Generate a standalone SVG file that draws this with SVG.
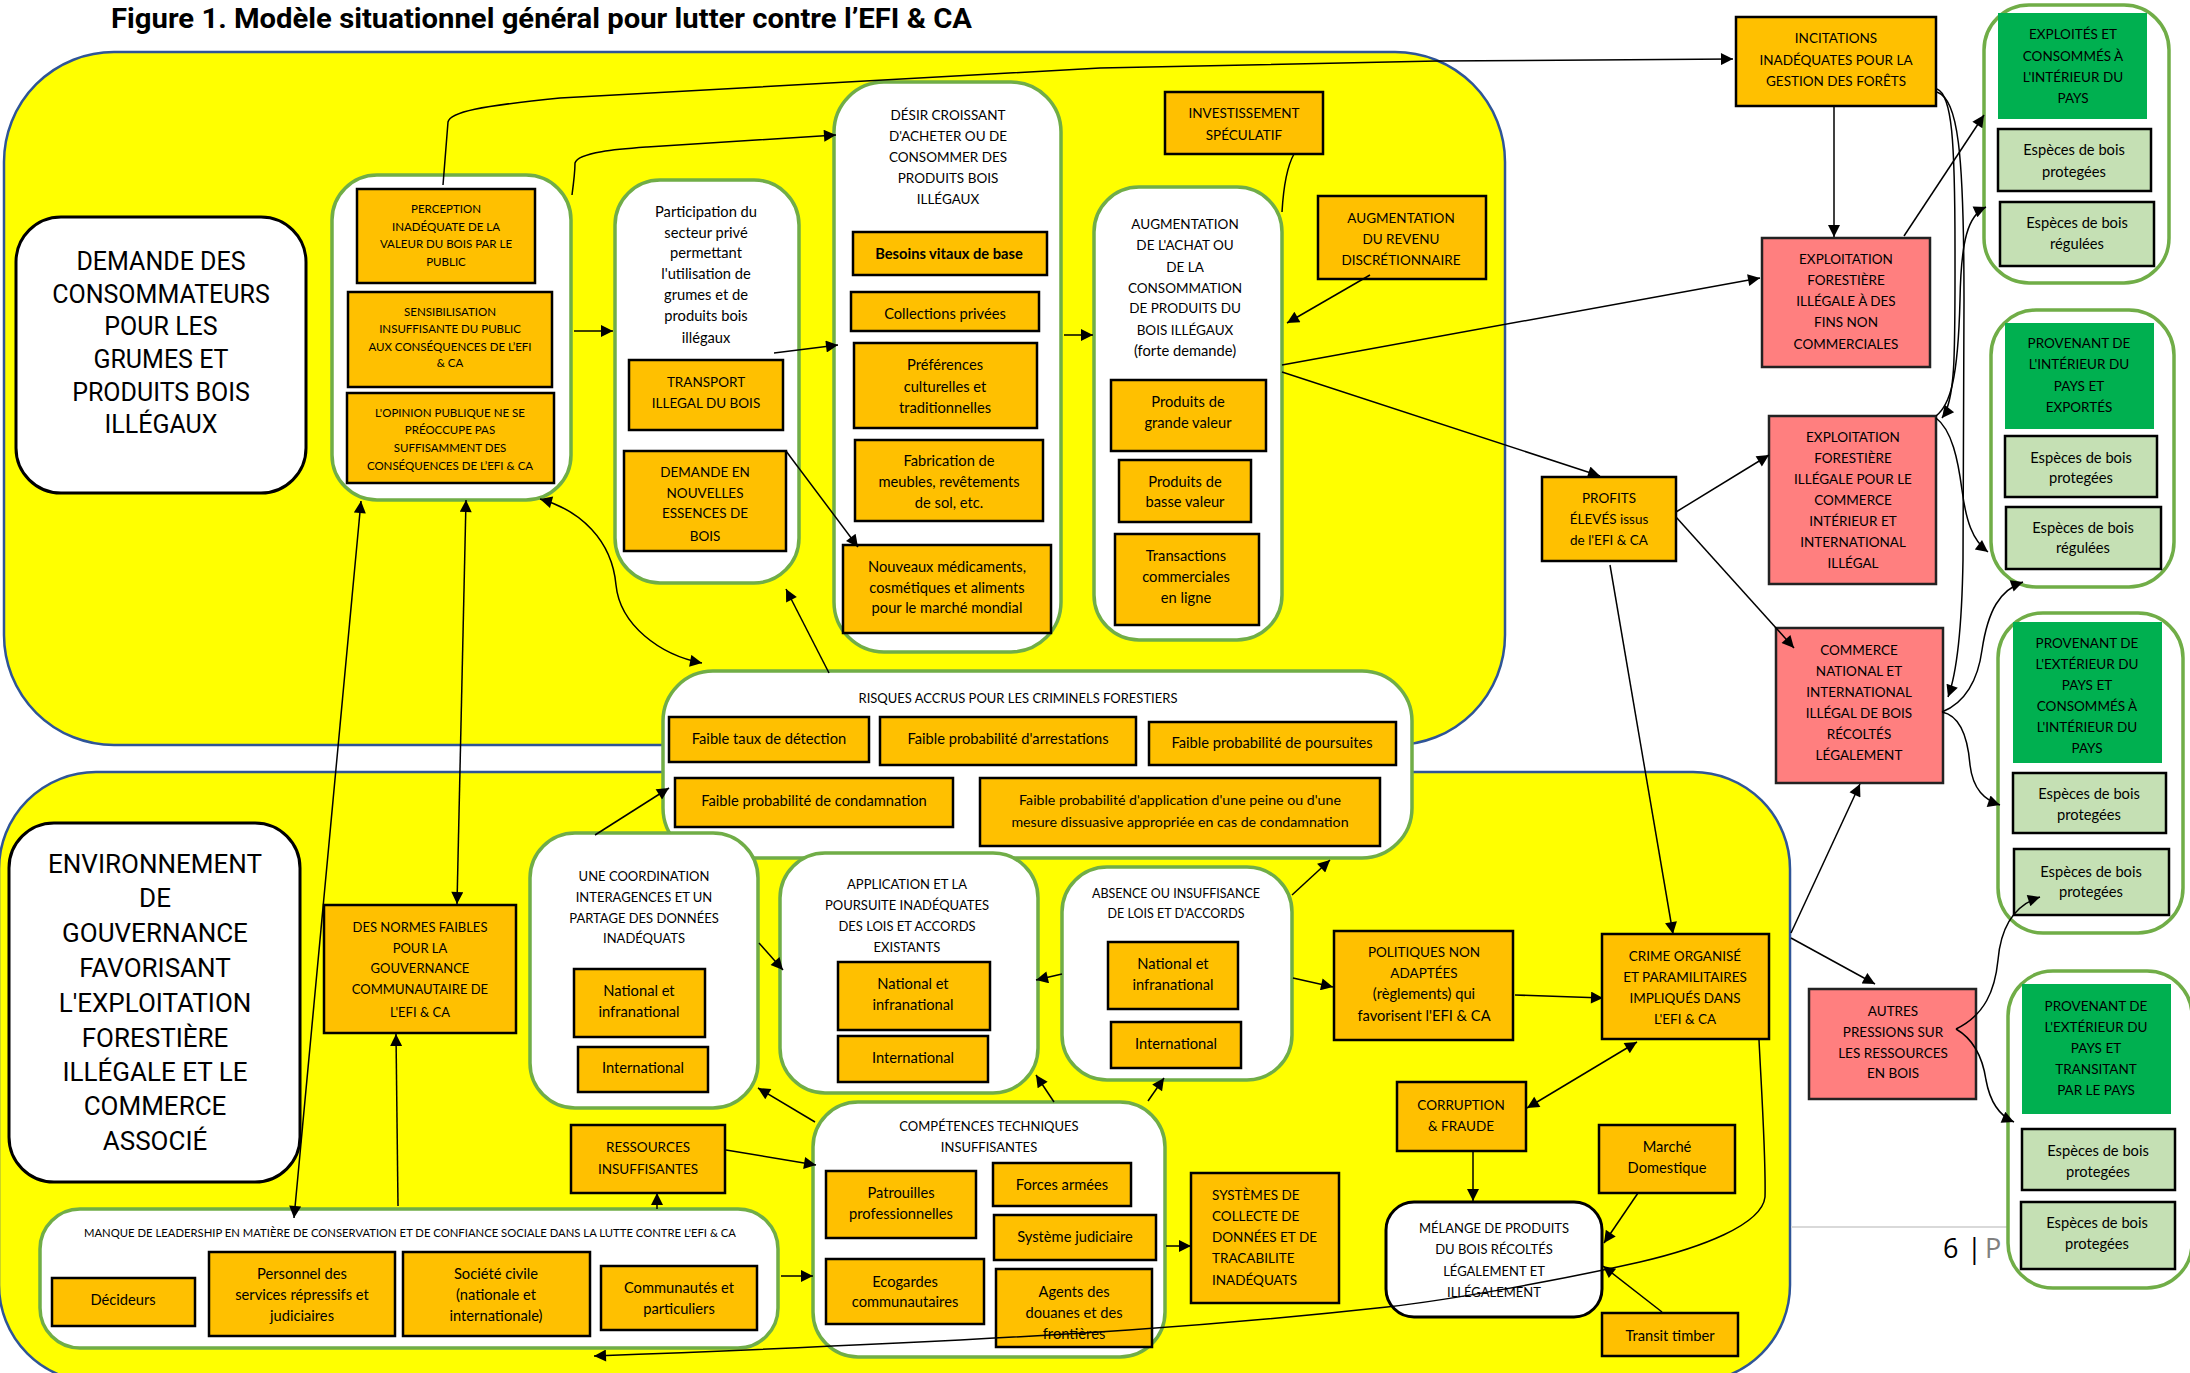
<svg xmlns="http://www.w3.org/2000/svg" width="2190" height="1373" viewBox="0 0 2190 1373">
<defs>
<style>
.reg{fill:#FFFF00;stroke:#2F5597;stroke-width:2.5}
.wb{fill:#fff;stroke:#000;stroke-width:3}
.gc{fill:#fff;stroke:#70AD47;stroke-width:3.5}
.ob{fill:#FFC000;stroke:#000;stroke-width:2.5}
.sb{fill:#FF7F7F;stroke:#222;stroke-width:2.5}
.gb{fill:#00B050}
.lg{fill:#C5E0B4;stroke:#000;stroke-width:2.5}
text{font-family:Lato,"Open Sans",sans-serif;font-size:13.5px;fill:#000;text-anchor:middle}
.l{font-size:14.7px}
.s{font-size:11.5px}
.m{font-size:13px}
.big{font-family:Roboto,"Liberation Sans",sans-serif;font-size:25px}
.big2{font-family:Roboto,"Liberation Sans",sans-serif;font-size:26px}
.c{fill:none;stroke:#000;stroke-width:1.5}
.a{marker-end:url(#ah)}
.d{marker-start:url(#ah);marker-end:url(#ah)}
</style>
<marker id="ah" viewBox="0 0 10 10" refX="10" refY="5" markerWidth="15" markerHeight="12" markerUnits="userSpaceOnUse" orient="auto-start-reverse"><path d="M0,0 L10,5 L0,10 z" fill="#000"/></marker>
</defs>
<rect width="2190" height="1373" fill="#fff"/>
<text x="111" y="28" style="font-family:Roboto,'Liberation Sans',sans-serif;font-weight:bold;font-size:28px;text-anchor:start" textLength="861" lengthAdjust="spacingAndGlyphs">Figure 1. Modèle situationnel général pour lutter contre l’EFI &amp; CA</text>

<g id="region-demande"><rect class="reg" x="4" y="52" width="1501" height="693" rx="110"/></g>
<g id="region-gouvernance"><rect class="reg" x="-1" y="772" width="1791" height="610" rx="97"/></g>

<g id="footer">
<line x1="1791" y1="1227" x2="2008" y2="1227" stroke="#d9d9d9" stroke-width="2"/>
<text x="1943" y="1258" style="font-family:'Open Sans',sans-serif;font-size:27px;text-anchor:start">6</text>
<text x="1967" y="1258" style="font-family:'Open Sans',sans-serif;font-size:27px;text-anchor:start">|</text>
<text x="1985" y="1258" style="font-family:'Open Sans',sans-serif;font-size:27px;text-anchor:start;fill:#808080">P</text>
</g>

<g id="demande-consommateurs">
<rect class="wb" x="16" y="217" width="290" height="276" rx="45"/>
<text class="big"><tspan x="161" y="270">DEMANDE DES</tspan><tspan x="161" y="303">CONSOMMATEURS</tspan><tspan x="161" y="335">POUR LES</tspan><tspan x="161" y="368">GRUMES ET</tspan><tspan x="161" y="401">PRODUITS BOIS</tspan><tspan x="161" y="433">ILLÉGAUX</tspan></text>
</g>

<g id="groupe-perception">
<rect class="gc" x="332" y="175" width="239" height="325" rx="45"/>
<rect class="ob" x="357" y="189" width="178" height="94"/>
<text class="s"><tspan x="446" y="213">PERCEPTION</tspan><tspan x="446" y="231">INADÉQUATE DE LA</tspan><tspan x="446" y="248">VALEUR DU BOIS PAR LE</tspan><tspan x="446" y="266">PUBLIC</tspan></text>
<rect class="ob" x="348" y="292" width="204" height="95"/>
<text class="s"><tspan x="450" y="316">SENSIBILISATION</tspan><tspan x="450" y="333">INSUFFISANTE DU PUBLIC</tspan><tspan x="450" y="351">AUX CONSÉQUENCES DE L’EFI</tspan><tspan x="450" y="367">&amp; CA</tspan></text>
<rect class="ob" x="347" y="393" width="207" height="90"/>
<text class="s"><tspan x="450" y="417">L'OPINION PUBLIQUE NE SE</tspan><tspan x="450" y="434">PRÉOCCUPE PAS</tspan><tspan x="450" y="452">SUFFISAMMENT DES</tspan><tspan x="450" y="470">CONSÉQUENCES DE L’EFI &amp; CA</tspan></text>
</g>

<g id="participation">
<rect class="gc" x="615" y="180" width="184" height="403" rx="45"/>
<text class="l"><tspan x="706" y="217">Participation du</tspan><tspan x="706" y="238">secteur privé</tspan><tspan x="706" y="258">permettant</tspan><tspan x="706" y="279">l'utilisation de</tspan><tspan x="706" y="300">grumes et de</tspan><tspan x="706" y="321">produits bois</tspan><tspan x="706" y="343">illégaux</tspan></text>
<rect class="ob" x="629" y="360" width="154" height="70"/>
<text><tspan x="706" y="387">TRANSPORT</tspan><tspan x="706" y="408">ILLEGAL DU BOIS</tspan></text>
<rect class="ob" x="624" y="451" width="162" height="100"/>
<text><tspan x="705" y="477">DEMANDE EN</tspan><tspan x="705" y="498">NOUVELLES</tspan><tspan x="705" y="518">ESSENCES DE</tspan><tspan x="705" y="541">BOIS</tspan></text>
</g>

<g id="desir">
<rect class="gc" x="834" y="82" width="227" height="570" rx="50"/>
<text><tspan x="948" y="120">DÉSIR CROISSANT</tspan><tspan x="948" y="141">D'ACHETER OU DE</tspan><tspan x="948" y="162">CONSOMMER DES</tspan><tspan x="948" y="183">PRODUITS BOIS</tspan><tspan x="948" y="204">ILLÉGAUX</tspan></text>
<rect class="ob" x="853" y="232" width="194" height="43"/>
<text class="l" x="949" y="259" font-weight="bold">Besoins vitaux de base</text>
<rect class="ob" x="851" y="292" width="188" height="39"/>
<text class="l" x="945" y="319">Collections privées</text>
<rect class="ob" x="854" y="343" width="183" height="85"/>
<text class="l"><tspan x="945" y="370">Préférences</tspan><tspan x="945" y="392">culturelles et</tspan><tspan x="945" y="413">traditionnelles</tspan></text>
<rect class="ob" x="855" y="440" width="188" height="81"/>
<text class="l"><tspan x="949" y="466">Fabrication de</tspan><tspan x="949" y="487">meubles, revêtements</tspan><tspan x="949" y="508">de sol, etc.</tspan></text>
<rect class="ob" x="843" y="545" width="208" height="88"/>
<text class="l"><tspan x="947" y="572">Nouveaux médicaments,</tspan><tspan x="947" y="593">cosmétiques et aliments</tspan><tspan x="947" y="613">pour le marché mondial</tspan></text>
</g>

<g id="investissement">
<rect class="ob" x="1165" y="92" width="158" height="62"/>
<text><tspan x="1244" y="118">INVESTISSEMENT</tspan><tspan x="1244" y="140">SPÉCULATIF</tspan></text>
</g>

<g id="augmentation">
<rect class="gc" x="1094" y="187" width="188" height="453" rx="45"/>
<text><tspan x="1185" y="229">AUGMENTATION</tspan><tspan x="1185" y="250">DE L'ACHAT OU</tspan><tspan x="1185" y="272">DE LA</tspan><tspan x="1185" y="293">CONSOMMATION</tspan><tspan x="1185" y="313">DE PRODUITS DU</tspan><tspan x="1185" y="335">BOIS ILLÉGAUX</tspan><tspan x="1185" y="356" class="l">(forte demande)</tspan></text>
<rect class="ob" x="1111" y="380" width="155" height="71"/>
<text class="l"><tspan x="1188" y="407">Produits de</tspan><tspan x="1188" y="428">grande valeur</tspan></text>
<rect class="ob" x="1119" y="460" width="132" height="62"/>
<text class="l"><tspan x="1185" y="487">Produits de</tspan><tspan x="1185" y="507">basse valeur</tspan></text>
<rect class="ob" x="1115" y="534" width="144" height="91"/>
<text class="l"><tspan x="1186" y="561">Transactions</tspan><tspan x="1186" y="582">commerciales</tspan><tspan x="1186" y="603">en ligne</tspan></text>
</g>

<g id="revenu">
<rect class="ob" x="1318" y="196" width="168" height="83"/>
<text><tspan x="1401" y="223">AUGMENTATION</tspan><tspan x="1401" y="244">DU REVENU</tspan><tspan x="1401" y="265">DISCRÉTIONNAIRE</tspan></text>
</g>

<g id="profits">
<rect class="ob" x="1542" y="477" width="134" height="84"/>
<text><tspan x="1609" y="503">PROFITS</tspan><tspan x="1609" y="524">ÉLEVÉS issus</tspan><tspan x="1609" y="545">de l'EFI &amp; CA</tspan></text>
</g>

<g id="incitations">
<rect class="ob" x="1736" y="17" width="200" height="89"/>
<text><tspan x="1836" y="43">INCITATIONS</tspan><tspan x="1836" y="65">INADÉQUATES POUR LA</tspan><tspan x="1836" y="86">GESTION DES FORÊTS</tspan></text>
</g>

<g id="exploitation-non-commerciale">
<rect class="sb" x="1762" y="238" width="168" height="129"/>
<text><tspan x="1846" y="264">EXPLOITATION</tspan><tspan x="1846" y="285">FORESTIÈRE</tspan><tspan x="1846" y="306">ILLÉGALE À DES</tspan><tspan x="1846" y="327">FINS NON</tspan><tspan x="1846" y="349">COMMERCIALES</tspan></text>
</g>

<g id="exploitation-commerce">
<rect class="sb" x="1769" y="416" width="167" height="168"/>
<text><tspan x="1853" y="442">EXPLOITATION</tspan><tspan x="1853" y="463">FORESTIÈRE</tspan><tspan x="1853" y="484">ILLÉGALE POUR LE</tspan><tspan x="1853" y="505">COMMERCE</tspan><tspan x="1853" y="526">INTÉRIEUR ET</tspan><tspan x="1853" y="547">INTERNATIONAL</tspan><tspan x="1853" y="568">ILLÉGAL</tspan></text>
</g>

<g id="commerce-legal">
<rect class="sb" x="1776" y="628" width="167" height="155"/>
<text><tspan x="1859" y="655">COMMERCE</tspan><tspan x="1859" y="676">NATIONAL ET</tspan><tspan x="1859" y="697">INTERNATIONAL</tspan><tspan x="1859" y="718">ILLÉGAL DE BOIS</tspan><tspan x="1859" y="739">RÉCOLTÉS</tspan><tspan x="1859" y="760">LÉGALEMENT</tspan></text>
</g>

<g id="autres-pressions">
<rect class="sb" x="1809" y="989" width="167" height="110"/>
<text><tspan x="1893" y="1016">AUTRES</tspan><tspan x="1893" y="1037">PRESSIONS SUR</tspan><tspan x="1893" y="1058">LES RESSOURCES</tspan><tspan x="1893" y="1078">EN BOIS</tspan></text>
</g>

<g id="groupe-interieur">
<rect class="gc" x="1984" y="5" width="185" height="278" rx="45"/>
<rect class="gb" x="1998" y="13" width="149" height="106"/>
<text><tspan x="2073" y="39">EXPLOITÉS ET</tspan><tspan x="2073" y="61">CONSOMMÉS À</tspan><tspan x="2073" y="82">L'INTÉRIEUR DU</tspan><tspan x="2073" y="103">PAYS</tspan></text>
<rect class="lg" x="1998" y="129" width="153" height="62"/>
<text class="l"><tspan x="2074" y="155">Espèces de bois</tspan><tspan x="2074" y="177">protegées</tspan></text>
<rect class="lg" x="2000" y="202" width="154" height="64"/>
<text class="l"><tspan x="2077" y="228">Espèces de bois</tspan><tspan x="2077" y="249">régulées</tspan></text>
</g>

<g id="groupe-exportes">
<rect class="gc" x="1991" y="310" width="183" height="277" rx="45"/>
<rect class="gb" x="2005" y="323" width="149" height="106"/>
<text><tspan x="2079" y="348">PROVENANT DE</tspan><tspan x="2079" y="369">L'INTÉRIEUR DU</tspan><tspan x="2079" y="391">PAYS ET</tspan><tspan x="2079" y="412">EXPORTÉS</tspan></text>
<rect class="lg" x="2005" y="436" width="152" height="61"/>
<text class="l"><tspan x="2081" y="463">Espèces de bois</tspan><tspan x="2081" y="483">protegées</tspan></text>
<rect class="lg" x="2006" y="507" width="155" height="62"/>
<text class="l"><tspan x="2083" y="533">Espèces de bois</tspan><tspan x="2083" y="553">régulées</tspan></text>
</g>

<g id="groupe-importes">
<rect class="gc" x="1998" y="613" width="185" height="320" rx="45"/>
<rect class="gb" x="2013" y="622" width="149" height="141"/>
<text><tspan x="2087" y="648">PROVENANT DE</tspan><tspan x="2087" y="669">L'EXTÉRIEUR DU</tspan><tspan x="2087" y="690">PAYS ET</tspan><tspan x="2087" y="711">CONSOMMÉS À</tspan><tspan x="2087" y="732">L'INTÉRIEUR DU</tspan><tspan x="2087" y="753">PAYS</tspan></text>
<rect class="lg" x="2013" y="773" width="153" height="60"/>
<text class="l"><tspan x="2089" y="799">Espèces de bois</tspan><tspan x="2089" y="820">protegées</tspan></text>
<rect class="lg" x="2014" y="849" width="155" height="66"/>
<text class="l"><tspan x="2091" y="877">Espèces de bois</tspan><tspan x="2091" y="897">protegées</tspan></text>
</g>

<g id="groupe-transit">
<rect class="gc" x="2008" y="971" width="184" height="317" rx="45"/>
<rect class="gb" x="2022" y="984" width="149" height="130"/>
<text><tspan x="2096" y="1011">PROVENANT DE</tspan><tspan x="2096" y="1032">L'EXTÉRIEUR DU</tspan><tspan x="2096" y="1053">PAYS ET</tspan><tspan x="2096" y="1074">TRANSITANT</tspan><tspan x="2096" y="1095">PAR LE PAYS</tspan></text>
<rect class="lg" x="2022" y="1129" width="153" height="61"/>
<text class="l"><tspan x="2098" y="1156">Espèces de bois</tspan><tspan x="2098" y="1177">protegées</tspan></text>
<rect class="lg" x="2021" y="1202" width="154" height="67"/>
<text class="l"><tspan x="2097" y="1228">Espèces de bois</tspan><tspan x="2097" y="1249">protegées</tspan></text>
</g>

<g id="risques">
<rect class="gc" x="663" y="671" width="749" height="187" rx="50"/>
<text class="m" x="1018" y="703">RISQUES ACCRUS POUR LES CRIMINELS FORESTIERS</text>
<rect class="ob" x="669" y="717" width="200" height="45"/>
<text class="l" x="769" y="744">Faible taux de détection</text>
<rect class="ob" x="880" y="717" width="256" height="48"/>
<text class="l" x="1008" y="744">Faible probabilité d'arrestations</text>
<rect class="ob" x="1149" y="722" width="247" height="43"/>
<text class="l" x="1272" y="748">Faible probabilité de poursuites</text>
<rect class="ob" x="675" y="778" width="278" height="49"/>
<text class="l" x="814" y="806">Faible probabilité de condamnation</text>
<rect class="ob" x="980" y="778" width="400" height="68"/>
<text style="font-size:14.2px"><tspan x="1180" y="805">Faible probabilité d'application d'une peine ou d'une</tspan><tspan x="1180" y="827">mesure dissuasive appropriée en cas de condamnation</tspan></text>
</g>

<g id="environnement">
<rect class="wb" x="9" y="823" width="291" height="359" rx="45"/>
<text class="big2"><tspan x="155" y="873">ENVIRONNEMENT</tspan><tspan x="155" y="907">DE</tspan><tspan x="155" y="942">GOUVERNANCE</tspan><tspan x="155" y="977">FAVORISANT</tspan><tspan x="155" y="1012">L'EXPLOITATION</tspan><tspan x="155" y="1047">FORESTIÈRE</tspan><tspan x="155" y="1081">ILLÉGALE ET LE</tspan><tspan x="155" y="1115">COMMERCE</tspan><tspan x="155" y="1150">ASSOCIÉ</tspan></text>
</g>

<g id="normes">
<rect class="ob" x="324" y="905" width="192" height="128"/>
<text class="m"><tspan x="420" y="932">DES NORMES FAIBLES</tspan><tspan x="420" y="953">POUR LA</tspan><tspan x="420" y="973">GOUVERNANCE</tspan><tspan x="420" y="994">COMMUNAUTAIRE DE</tspan><tspan x="420" y="1017">L'EFI &amp; CA</tspan></text>
</g>

<g id="coordination">
<rect class="gc" x="530" y="833" width="228" height="275" rx="45"/>
<text class="m"><tspan x="644" y="881">UNE COORDINATION</tspan><tspan x="644" y="902">INTERAGENCES ET UN</tspan><tspan x="644" y="923">PARTAGE DES DONNÉES</tspan><tspan x="644" y="943">INADÉQUATS</tspan></text>
<rect class="ob" x="574" y="969" width="131" height="68"/>
<text class="l"><tspan x="639" y="996">National et</tspan><tspan x="639" y="1017">infranational</tspan></text>
<rect class="ob" x="578" y="1047" width="130" height="45"/>
<text class="l" x="643" y="1073">International</text>
</g>

<g id="application">
<rect class="gc" x="780" y="853" width="258" height="240" rx="45"/>
<text class="m"><tspan x="907" y="889">APPLICATION ET LA</tspan><tspan x="907" y="910">POURSUITE INADÉQUATES</tspan><tspan x="907" y="931">DES LOIS ET ACCORDS</tspan><tspan x="907" y="952">EXISTANTS</tspan></text>
<rect class="ob" x="838" y="962" width="152" height="68"/>
<text class="l"><tspan x="913" y="989">National et</tspan><tspan x="913" y="1010">infranational</tspan></text>
<rect class="ob" x="838" y="1036" width="150" height="46"/>
<text class="l" x="913" y="1063">International</text>
</g>

<g id="absence">
<rect class="gc" x="1062" y="867" width="230" height="213" rx="45"/>
<text style="font-size:12.5px"><tspan x="1176" y="898">ABSENCE OU INSUFFISANCE</tspan><tspan x="1176" y="918">DE LOIS ET D'ACCORDS</tspan></text>
<rect class="ob" x="1108" y="942" width="130" height="67"/>
<text class="l"><tspan x="1173" y="969">National et</tspan><tspan x="1173" y="990">infranational</tspan></text>
<rect class="ob" x="1111" y="1022" width="130" height="46"/>
<text class="l" x="1176" y="1049">International</text>
</g>

<g id="politiques">
<rect class="ob" x="1334" y="931" width="179" height="109"/>
<text><tspan x="1424" y="957">POLITIQUES NON</tspan><tspan x="1424" y="978">ADAPTÉES</tspan><tspan x="1424" y="999" class="l">(règlements) qui</tspan><tspan x="1424" y="1021" class="l">favorisent l'EFI &amp; CA</tspan></text>
</g>

<g id="crime">
<rect class="ob" x="1602" y="934" width="167" height="105"/>
<text><tspan x="1685" y="961">CRIME ORGANISÉ</tspan><tspan x="1685" y="982">ET PARAMILITAIRES</tspan><tspan x="1685" y="1003">IMPLIQUÉS DANS</tspan><tspan x="1685" y="1024">L'EFI &amp; CA</tspan></text>
</g>

<g id="corruption">
<rect class="ob" x="1397" y="1082" width="129" height="69"/>
<text><tspan x="1461" y="1110">CORRUPTION</tspan><tspan x="1461" y="1131">&amp; FRAUDE</tspan></text>
</g>

<g id="melange">
<rect class="wb" x="1386" y="1202" width="216" height="115" rx="28"/>
<text class="m"><tspan x="1494" y="1233">MÉLANGE DE PRODUITS</tspan><tspan x="1494" y="1254">DU BOIS RÉCOLTÉS</tspan><tspan x="1494" y="1276">LÉGALEMENT ET</tspan><tspan x="1494" y="1297">ILLÉGALEMENT</tspan></text>
</g>

<g id="marche">
<rect class="ob" x="1599" y="1125" width="136" height="68"/>
<text class="l"><tspan x="1667" y="1152">Marché</tspan><tspan x="1667" y="1173">Domestique</tspan></text>
</g>

<g id="transit">
<rect class="ob" x="1602" y="1313" width="136" height="43"/>
<text class="l" x="1670" y="1341">Transit timber</text>
</g>

<g id="systemes">
<rect class="ob" x="1191" y="1173" width="148" height="130"/>
<text style="text-anchor:start"><tspan x="1212" y="1200">SYSTÈMES DE</tspan><tspan x="1212" y="1221">COLLECTE DE</tspan><tspan x="1212" y="1242">DONNÉES ET DE</tspan><tspan x="1212" y="1263">TRACABILITE</tspan><tspan x="1212" y="1285">INADÉQUATS</tspan></text>
</g>

<g id="ressources">
<rect class="ob" x="571" y="1125" width="154" height="68"/>
<text><tspan x="648" y="1152">RESSOURCES</tspan><tspan x="648" y="1174">INSUFFISANTES</tspan></text>
</g>

<g id="competences">
<rect class="gc" x="813" y="1102" width="352" height="255" rx="45"/>
<text class="m"><tspan x="989" y="1131">COMPÉTENCES TECHNIQUES</tspan><tspan x="989" y="1152">INSUFFISANTES</tspan></text>
<rect class="ob" x="826" y="1171" width="150" height="67"/>
<text class="l"><tspan x="901" y="1198">Patrouilles</tspan><tspan x="901" y="1219">professionnelles</tspan></text>
<rect class="ob" x="826" y="1259" width="158" height="65"/>
<text class="l"><tspan x="905" y="1287">Ecogardes</tspan><tspan x="905" y="1307">communautaires</tspan></text>
<rect class="ob" x="993" y="1163" width="138" height="43"/>
<text class="l" x="1062" y="1190">Forces armées</text>
<rect class="ob" x="994" y="1215" width="162" height="45"/>
<text class="l" x="1075" y="1242">Système judiciaire</text>
<rect class="ob" x="996" y="1269" width="156" height="78"/>
<text class="l"><tspan x="1074" y="1297">Agents des</tspan><tspan x="1074" y="1318">douanes et des</tspan><tspan x="1074" y="1339">frontières</tspan></text>
</g>

<g id="manque-leadership">
<rect class="gc" x="40" y="1209" width="738" height="139" rx="40"/>
<text class="s" x="410" y="1237" textLength="652" lengthAdjust="spacingAndGlyphs">MANQUE DE LEADERSHIP EN MATIÈRE DE CONSERVATION ET DE CONFIANCE SOCIALE DANS LA LUTTE CONTRE L'EFI &amp; CA</text>
<rect class="ob" x="52" y="1278" width="143" height="48"/>
<text class="l" x="123" y="1305">Décideurs</text>
<rect class="ob" x="209" y="1252" width="186" height="84"/>
<text class="l"><tspan x="302" y="1279">Personnel des</tspan><tspan x="302" y="1300">services répressifs et</tspan><tspan x="302" y="1321">judiciaires</tspan></text>
<rect class="ob" x="403" y="1252" width="187" height="84"/>
<text class="l"><tspan x="496" y="1279">Société civile</tspan><tspan x="496" y="1300">(nationale et</tspan><tspan x="496" y="1321">internationale)</tspan></text>
<rect class="ob" x="601" y="1266" width="156" height="64"/>
<text class="l"><tspan x="679" y="1293">Communautés et</tspan><tspan x="679" y="1314">particuliers</tspan></text>
</g>

<g id="connectors">
<path class="c a" d="M443,185 C445,160 447,135 448,122 C450,112 480,106 560,98 L1100,68 L1437,61 L1733,59"/>
<path class="c a" d="M572,195 C574,180 575,170 575,163 C578,152 620,149 647,147 L836,135"/>
<path class="c a" d="M574,331 L613,331"/>
<path class="c a" d="M774,353 L838,345"/>
<path class="c a" d="M786,451 L858,547"/>
<path class="c a" d="M1064,335 L1093,335"/>
<path class="c" d="M1294,154 C1285,170 1283,195 1282,212"/>
<path class="c a" d="M1370,275 L1287,323"/>
<path class="c a" d="M1282,365 L1760,278"/>
<path class="c a" d="M1282,372 L1600,476"/>
<path class="c a" d="M1834,106 L1834,237"/>
<path class="c a" d="M1904,236 L1984,115"/>
<path class="c a" d="M1676,512 L1769,455"/>
<path class="c a" d="M1676,517 L1794,648"/>
<path class="c a" d="M1610,565 L1673,934"/>
<path class="c a" d="M1937,89 C1952,95 1955,140 1955,250 C1955,350 1956,400 1942,418"/>
<path class="c a" d="M1937,92 C1958,100 1964,150 1964,300 L1963,560 C1962,620 1958,670 1948,697"/>
<path class="c a" d="M1936,416 C1950,405 1958,380 1960,300 C1961,240 1968,215 1986,207"/>
<path class="c a" d="M1936,418 C1952,430 1958,460 1962,490 C1966,520 1972,540 1988,552"/>
<path class="c a" d="M1942,712 C1965,703 1978,680 1982,650 C1988,610 2000,590 2023,582"/>
<path class="c a" d="M1942,712 C1962,716 1968,740 1970,765 C1973,790 1985,800 2000,805"/>
<path class="c d" d="M540,499 C580,510 612,540 616,585 C620,625 660,655 702,663"/>
<path class="c a" d="M829,673 L786,589"/>
<path class="c a" d="M595,835 L669,788"/>
<path class="c a" d="M759,943 L783,970"/>
<path class="c a" d="M1062,974 L1036,980"/>
<path class="c a" d="M1054,1102 L1036,1075"/>
<path class="c a" d="M815,1122 L758,1088"/>
<path class="c a" d="M726,1150 L816,1165"/>
<path class="c a" d="M657,1209 L657,1193"/>
<path class="c a" d="M781,1276 L813,1276"/>
<path class="c a" d="M1166,1246 L1191,1246"/>
<path class="c a" d="M1148,1101 L1164,1078"/>
<path class="c a" d="M1292,895 L1330,860"/>
<path class="c a" d="M1293,978 L1333,987"/>
<path class="c a" d="M1515,995 L1603,998"/>
<path class="c d" d="M1637,1042 L1527,1108"/>
<path class="c a" d="M1473,1151 L1473,1201"/>
<path class="c a" d="M1638,1193 L1604,1243"/>
<path class="c a" d="M1662,1312 L1603,1266"/>
<path class="c a" d="M1759,1040 C1762,1100 1766,1160 1765,1197 C1762,1225 1700,1248 1640,1262 C1560,1280 1450,1300 1387,1307 C1250,1322 1100,1337 594,1356"/>
<path class="c a" d="M1791,933 L1860,784"/>
<path class="c a" d="M1791,938 L1875,984"/>
<path class="c a" d="M1956,1029 C1985,1015 1995,990 1998,960 C2001,925 2015,905 2040,897"/>
<path class="c a" d="M1956,1029 C1975,1040 1983,1060 1986,1080 C1990,1102 2000,1116 2014,1122"/>
<path class="c d" d="M466,500 L457,904"/>
<path class="c d" d="M361,501 L294,1218"/>
<path class="c a" d="M398,1206 L396,1034"/>
</g>
</svg>
